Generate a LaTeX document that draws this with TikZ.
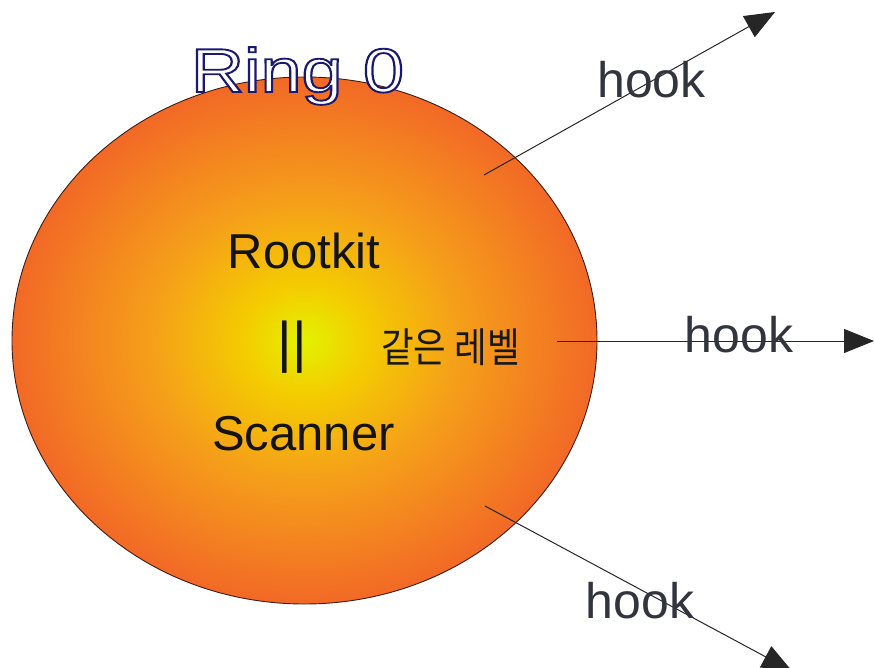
\documentclass[tikz,border=0pt]{standalone}
\usepackage{fontspec}
\setmainfont{Liberation Sans}
\newfontfamily\krfont{Noto Sans CJK KR}
\newfontfamily\ringfont[FakeBold=3]{Liberation Sans}
\usetikzlibrary{arrows.meta,shapes.geometric}
\definecolor{cA}{RGB}{226,242,0}
\definecolor{cB}{RGB}{244,205,0}
\definecolor{cC}{RGB}{245,160,25}
\definecolor{cD}{RGB}{242,105,38}
\definecolor{ringline}{RGB}{60,30,20}
\definecolor{hooktext}{RGB}{50,52,62}
\pgfdeclareradialshading{ringshade}{\pgfpoint{0bp}{0bp}}{color(0bp)=(cA); color(5bp)=(cB); color(13bp)=(cC); color(25bp)=(cD); color(50bp)=(cD)}
\tikzset{
  bigtext/.style={anchor=base, inner sep=0pt, font=\fontsize{49}{49}\selectfont, text=black!92},
  hooktxt/.style={anchor=base, inner sep=0pt, font=\fontsize{50}{50}\selectfont, text=hooktext},
  hookarrow/.style={draw=black!85, line width=1pt, -{Triangle[length=30pt,width=24pt]}}
}
\begin{document}
\begin{tikzpicture}[x=1pt,y=-1pt]
\useasboundingbox (0,0) rectangle (874,668);
\node[ellipse, shade, shading=ringshade, draw=ringline, line width=0.9pt,
      minimum width=585pt, minimum height=527pt, inner sep=0pt] (ring) at (304.5,340.5) {};
\node[anchor=base, inner sep=0pt] (ring0) at (297.5,92)
  {\scalebox{1.19}[1]{\ringfont\fontsize{62}{62}\selectfont\color{white}\special{pdf:literal direct 0.1 0.1 0.43 RG}Ring 0}};
\node[bigtext] (rootkit) at (304,268) {Rootkit};
\node[anchor=base, inner sep=0pt, font=\fontsize{56}{56}\selectfont, text=black!92] (eq) at (292,361) {||};
\node[bigtext] (scanner) at (303.5,450) {Scanner};
\node[anchor=base west, inner sep=0pt, text=black!90] (same) at (381,362)
  {\scalebox{1}[1.15]{\krfont\fontsize{35.5}{35.5}\selectfont 같은 레벨}};
\coordinate (a1s) at (484,175);
\coordinate (a1e) at (775,12);
\coordinate (a2s) at (557,341);
\coordinate (a2e) at (874,341);
\coordinate (a3s) at (485,506);
\coordinate (a3e) at (792,671);
\draw[hookarrow] (a1s) -- (a1e);
\draw[hookarrow] (a2s) -- (a2e);
\draw[hookarrow] (a3s) -- (a3e);
\node[hooktxt] (hook1) at (651.5,98) {hook};
\node[hooktxt] (hook2) at (739,352) {hook};
\node[hooktxt] (hook3) at (640,618) {hook};
\end{tikzpicture}
\end{document}
